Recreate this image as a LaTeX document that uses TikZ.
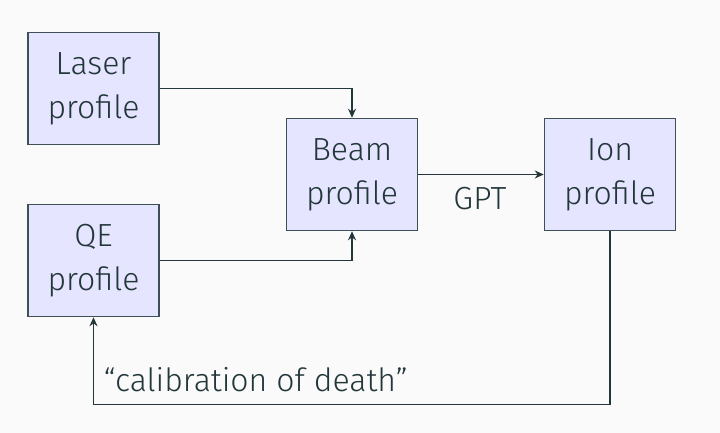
\documentclass[tikz,border=0pt]{standalone}
\usepackage{fontspec}
\setmainfont{Fira Sans}[UprightFont=* Light]
\usetikzlibrary{arrows.meta}

\definecolor{bgcol}{HTML}{FAFAFA}
\definecolor{inkcol}{HTML}{23373B}
\definecolor{boxfill}{HTML}{E5E5FF}
\definecolor{boxline}{HTML}{3E5056}

\begin{document}
\begin{tikzpicture}[x=1pt,y=-1pt,
  font=\fontsize{32}{44}\selectfont,
  every node/.style={text=inkcol},
  profilebox/.style={draw=boxline,fill=boxfill,line width=1.5pt,
    minimum width=131pt,minimum height=112pt,align=center,inner sep=0pt},
  flow/.style={draw=inkcol,line width=1.5pt,-{Stealth[length=9pt,width=8pt]}}]
% page and background
\fill[bgcol] (0,0) rectangle (720,433);
\useasboundingbox (0,0) rectangle (720,433);

% Boxes
\node[profilebox] (laser) at (93.5,88.5) {Laser\\profile};
\node[profilebox] (qe) at (93.5,260.5) {QE\\profile};
\node[profilebox] (beam) at (352,174.5) {Beam\\profile};
\node[profilebox] (ion) at (610,174.5) {Ion\\profile};

% Connectors
\draw[flow] (laser.east) -| (beam.north);
\draw[flow] (qe.east) -| (beam.south);
\draw[flow] (beam.east) -- (ion.west);
\draw[flow] (ion.south) -- ++(0,173) coordinate (corner) -| (qe.south);

% Text Node
\node (gpt) at (480,199) {GPT};
% Text Node
\node[anchor=west] (calib) at (100,380) {“calibration of death”};
\end{tikzpicture}
\end{document}
